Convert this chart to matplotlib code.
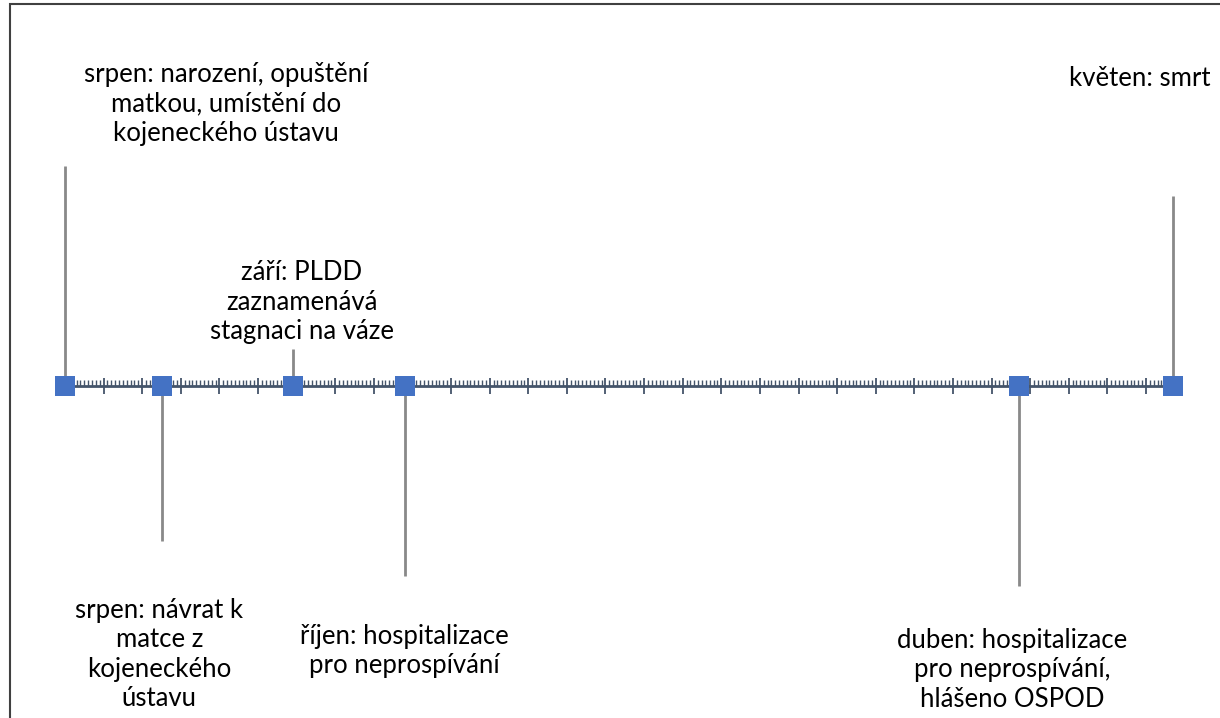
import numpy as np
import matplotlib.pyplot as plt
from matplotlib.patches import Rectangle

# timeline events: day offset from the first event, leader-line height
days = [0, 25, 59, 88, 247, 287]
heights = [22, -15.5, 3.7, -19, -20, 19]
labels = [
    "srpen: narození, opuštění\nmatkou, umístění do\nkojeneckého ústavu",
    "srpen: návrat k\nmatce z\nkojeneckého\nústavu",
    "září: PLDD\nzaznamenává\nstagnaci na váze",
    "říjen: hospitalizace\npro neprospívání",
    "duben: hospitalizace\npro neprospívání,\nhlášeno OSPOD",
    "květen: smrt",
]
# where each label block sits (centre), same units as above
label_x = [41.7, 24.4, 61.4, 87.8, 245.3, 278.3]
label_y = [28.2, -26.85, 8.4, -26.5, -28.4, 30.8]

W, H = 1220, 718
x0_px, px_per_day = 65, 3.8606
y0_px, px_per_unit = 386, 10.0

fig = plt.figure(figsize=(W / 100, H / 100), dpi=100)
ax = fig.add_axes([0, 0, 1, 1])
ax.patch.set_alpha(0)

for s in ['top', 'left', 'right']:
    ax.spines[s].set_visible(False)
ax.spines['bottom'].set_position(('data', 0))
ax.spines['bottom'].set_bounds(days[0], days[-1])
ax.spines['bottom'].set_color('#44546A')
ax.spines['bottom'].set_linewidth(2.0)
ax.set_yticks([])
ax.set_xticks([t for t in np.arange(0, days[-1] + 1, 10)])
ax.set_xticks([t for t in np.arange(0, days[-1] + 1, 1) if t % 10], minor=True)
ax.tick_params(axis='x', which='major', direction='inout', length=12, width=1.3,
               color='#44546A', labelbottom=False)
ax.tick_params(axis='x', which='minor', direction='in', length=4, width=1.0,
               color='#44546A')
ax.set_xlim(-x0_px / px_per_day, (W - x0_px) / px_per_day)
ax.set_ylim(-(H - y0_px) / px_per_unit, y0_px / px_per_unit)

# leader lines and markers
ax.vlines(days, 0, heights, color='#898989', linewidth=2.0, zorder=2)
ax.scatter(days, np.zeros(len(days)), marker='s', s=195, color='#4472C4',
           linewidths=0, zorder=4, clip_on=False)

for lx, ly, txt in zip(label_x, label_y, labels):
    ax.text(lx, ly, txt, ha='center', va='center', fontsize=18.5,
            family=['Lato', 'DejaVu Sans'], linespacing=1.21, color='black')

# chart frame (cropped on right and bottom)
fig.patches.append(Rectangle((9.5 / W, -0.5), 2, 1.5 - 3.5 / H,
                             transform=fig.transFigure, fill=False,
                             edgecolor='#404040', linewidth=1.5))

fig.savefig('out.png', dpi=100)
